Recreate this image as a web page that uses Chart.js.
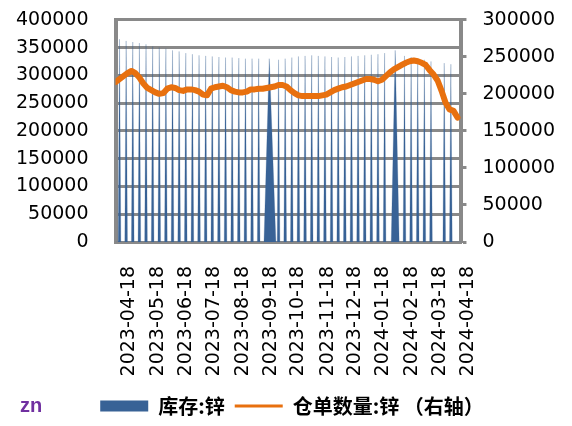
<!DOCTYPE html>
<html>
<head>
<meta charset="utf-8">
<script src="https://cdn.jsdelivr.net/npm/chart.js@4"></script>
<style>
  html, body { margin: 0; padding: 0; background: #fff; }
  #wrap { position: relative; width: 572px; height: 426px; }
  #zn { position: absolute; left: 20px; top: 394px; color: #7030a0;
        font: bold 20px "Liberation Sans", sans-serif; }
</style>
</head>
<body>
<div id="wrap">
  <canvas id="chart" width="572" height="426"></canvas>
  <div id="zn">zn</div>
</div>
<script>
// trading days on the x axis (index 0 .. N_DAYS-1)
var N_DAYS = 262;

// tick labels and the day index each one sits on
var TICK_LABELS = ['2023-04-18', '2023-05-18', '2023-06-18', '2023-07-18', '2023-08-18',
                   '2023-09-18', '2023-10-18', '2023-11-18', '2023-12-18', '2024-01-18',
                   '2024-02-18', '2024-03-18', '2024-04-18'];
var TICK_IDX = [10, 32, 53, 74, 96, 117, 138, 160, 181, 202, 224, 245, 266];

// 库存:锌 - weekly figure, other days blank (drawn as 0)
var STOCK_IDX = [3, 8, 13, 18, 23, 28, 33, 38, 43, 48, 53, 58, 63, 68, 73, 78, 83, 88, 93, 98, 103, 108,
                 116,
                 123, 128, 133, 138, 143, 148, 153, 158, 163, 168, 173, 178, 183, 188, 193, 198, 203,
                 211,
                 218, 223, 228, 233, 238, 248, 253];
var STOCK_VAL = [365000, 362000, 360000, 358000, 356000, 352000, 350000, 348000, 345000, 343000, 340000,
                 338000, 336000, 335000, 334000, 333000, 332000, 332000, 331000, 330000, 330000, 330000,
                 330000,
                 328000, 330000, 332000, 334000, 335000, 336000, 335000, 334000, 333000, 332000, 333000,
                 334000, 335000, 336000, 337000, 338000, 340000,
                 345000,
                 335000, 333000, 330000, 328000, 325000, 322000, 320000];
// holiday days with no row at all
var HOLIDAYS = [113, 114, 115, 117, 118, 119, 120, 209, 210, 212, 213];

// 仓单数量:锌 - read every 3rd day, starting at day 0
var WARRANT_STEP = 3;
var WARRANT_VAL = [216000, 220000, 224000, 228000, 231000, 228000, 222000, 214000, 208000, 205000,
                   202000, 200000, 201000, 207000, 209000, 208000, 205000, 204000, 206000, 206000,
                   205000, 203000, 199000, 198000, 207000, 209000, 210000, 211000, 209000, 205000,
                   203000, 202000, 202000, 203000, 206000, 206000, 207000, 207000, 208000, 209000,
                   210000, 212000, 212000, 210000, 205000, 201000, 198000, 197000, 197000, 197000,
                   197000, 197000, 198000, 199000, 202000, 205000, 207000, 209000, 210000, 212000,
                   214000, 216000, 218000, 220000, 220000, 219000, 217000, 219000, 224000, 229000,
                   233000, 236000, 239000, 242000, 244000, 245000, 244000, 242000, 239000, 232000,
                   226000, 218000, 204000, 188000, 179000, 177000, 168000];

var stockPoints = [];
for (var i = 0; i < N_DAYS; i++) {
    if (HOLIDAYS.indexOf(i) >= 0) continue;
    var k = STOCK_IDX.indexOf(i);
    stockPoints.push({x: i, y: k >= 0 ? STOCK_VAL[k] : 0});
}
var warrantPoints = WARRANT_VAL.map(function(v, j) { return {x: j * WARRANT_STEP, y: v}; });

var GRID = '#898989';
var BLUE = '#386296';
var ORANGE = '#e8700e';

Chart.defaults.font.family = 'DejaVu Sans';
Chart.defaults.color = '#000';

function plainNumber(v) { return String(v); }

new Chart(document.getElementById('chart'), {
    type: 'line',
    data: {
        datasets: [{
            label: '库存:锌',
            data: stockPoints,
            yAxisID: 'y',
            backgroundColor: BLUE,
            borderColor: 'rgba(56,98,150,0.35)',
            borderWidth: 0.7,
            fill: 'origin',
            pointRadius: 0,
            spanGaps: true,
            pointStyle: 'rect',
            order: 2
        }, {
            label: '仓单数量:锌 （右轴）',
            data: warrantPoints,
            yAxisID: 'y1',
            borderColor: ORANGE,
            backgroundColor: ORANGE,
            borderWidth: 6,
            borderJoinStyle: 'round',
            borderCapStyle: 'round',
            fill: false,
            pointRadius: 0,
            pointStyle: 'line',
            order: 1
        }]
    },
    options: {
        responsive: false,
        animation: false,
        layout: { padding: { top: 0, left: 13, right: 1, bottom: 0 } },
        plugins: {
            tooltip: { enabled: false },
            legend: {
                position: 'bottom',
                labels: {
                    usePointStyle: true,
                    pointStyleWidth: 48,
                    boxHeight: 11,
                    padding: 10,
                    font: { family: 'Noto Sans CJK SC', size: 20, weight: 'bold' },
                    generateLabels: function(chart) {
                        var items = Chart.defaults.plugins.legend.labels.generateLabels(chart);
                        items.forEach(function(it) { it.lineWidth = it.datasetIndex === 1 ? 3 : 0; });
                        items.sort(function(a, b) { return a.datasetIndex - b.datasetIndex; });
                        return items;
                    }
                }
            }
        },
        scales: {
            x: {
                type: 'linear',
                min: 0,
                max: N_DAYS - 1,
                afterBuildTicks: function(scale) {
                    scale.ticks = TICK_IDX.map(function(v) { return {value: v}; });
                },
                afterFit: function(scale) { scale.height = 144; },
                ticks: {
                    autoSkip: false,
                    minRotation: 90,
                    maxRotation: 90,
                    padding: 16,
                    font: { size: 19 },
                    callback: function(v, idx) { return TICK_LABELS[idx]; }
                },
                grid: { display: false },
                border: { display: true, color: GRID, width: 3 }
            },
            y: {
                position: 'left',
                min: 0,
                max: 400000,
                ticks: { stepSize: 50000, autoSkip: false, padding: 3,
                         font: { size: 19, lineHeight: 0.4 }, callback: plainNumber },
                grid: { color: GRID, lineWidth: 3, drawTicks: true, tickLength: 24,
                        tickColor: 'rgba(0,0,0,0)' },
                border: { display: true, color: GRID, width: 4 }
            },
            y1: {
                position: 'right',
                min: 0,
                max: 300000,
                ticks: { stepSize: 50000, autoSkip: false, padding: 16,
                         font: { size: 19, lineHeight: 0.4 }, callback: plainNumber },
                grid: { drawOnChartArea: false, drawTicks: true, tickLength: 5, tickWidth: 3, tickColor: GRID },
                border: { display: true, color: GRID, width: 4 }
            }
        }
    }
});
</script>
</body>
</html>
